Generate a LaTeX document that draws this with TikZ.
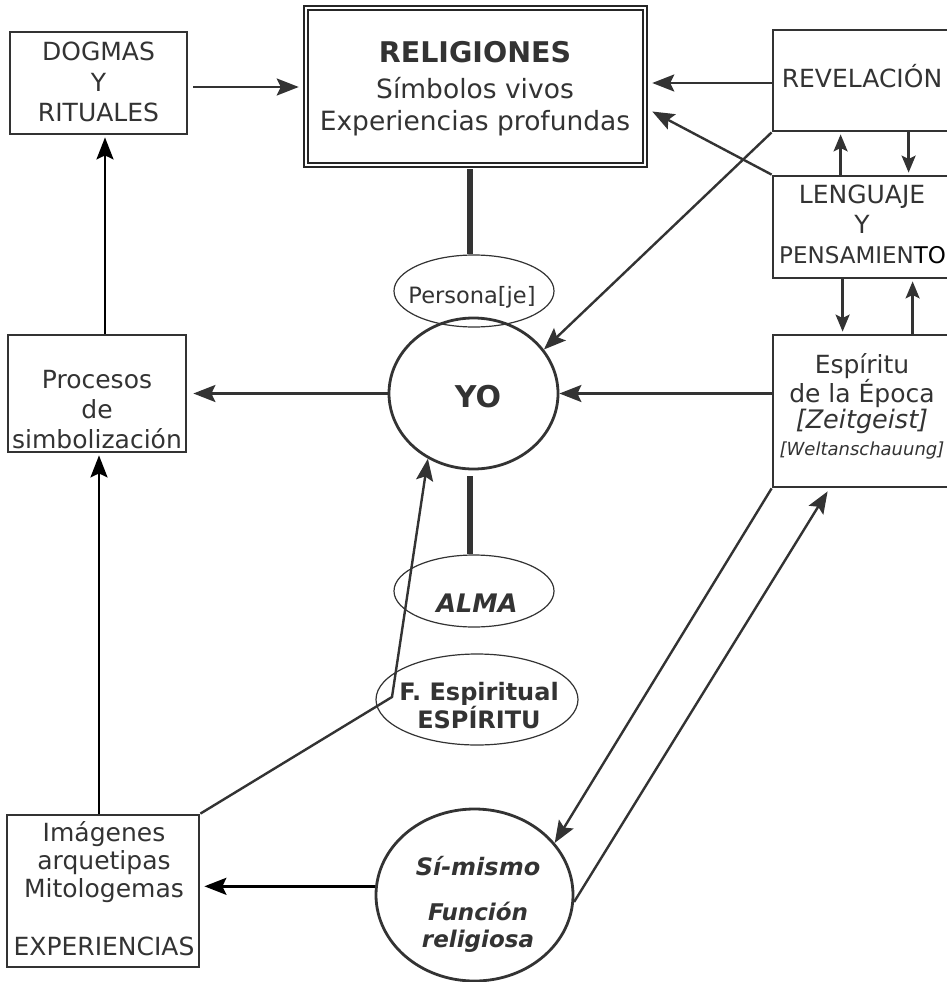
\documentclass[tikz,border=0pt]{standalone}
\usepackage{fontspec}
\setmainfont{DejaVu Sans}
\usetikzlibrary{arrows.meta,shapes.geometric,calc}
\definecolor{dg}{RGB}{51,51,51}
\newcommand\fsz[2]{\fontsize{#1}{#2}\selectfont}
\begin{document}
\begin{tikzpicture}[x=1pt,y=-1pt,
 boxst/.style={draw=dg,line width=2.8pt,rectangle,inner sep=0pt},
 ell/.style={draw=dg,line width=1.2pt,ellipse,inner sep=0pt},
 circ/.style={draw=dg,line width=2.8pt,ellipse,inner sep=0pt},
 txt/.style={text=dg,inner sep=0pt,anchor=base,font=\fsz{25}{30}},
 btxt/.style={txt,font=\fsz{24}{28}\bfseries},
 bitxt/.style={txt,font=\fsz{23}{27}\bfseries\itshape},
 myarrowtip/.style={-{Stealth[length=22pt,width=17pt,inset=4pt]}},
 arr/.style={draw=dg,line width=2.4pt,myarrowtip},
 arrk/.style={draw=black,line width=2.4pt,myarrowtip},
 arrs/.style={draw=dg,line width=2.4pt,-{Stealth[length=17pt,width=14pt,inset=3.5pt]}},
 thickbar/.style={draw=dg,line width=5.5pt}]
\useasboundingbox (0,0) rectangle (947,982);
\fill[white] (0,0) rectangle (947,982);

% boxes
\node[boxst,minimum width=177pt,minimum height=102pt] (dog) at (98.5,83) {};
\node[draw=black!85,double,line width=2.5pt,double distance=1.5pt,rectangle,inner sep=0pt,minimum width=339pt,minimum height=157pt] (relig) at (475.5,86.5) {};
\node[boxst,minimum width=187pt,minimum height=101pt] (rev) at (866.5,80.5) {};
\node[boxst,minimum width=187pt,minimum height=102pt] (len) at (866.5,227) {};
\node[boxst,minimum width=187pt,minimum height=152pt] (esp) at (866.5,411) {};
\node[boxst,minimum width=178pt,minimum height=117pt] (proc) at (97,393.5) {};
\node[boxst,minimum width=192pt,minimum height=152pt] (img) at (103,891) {};

% ellipses
\node[ell,minimum width=160pt,minimum height=72pt] (pers) at (474,291) {};
\node[circ,minimum width=169pt,minimum height=151pt] (yo) at (473.5,393.5) {};
\node[ell,minimum width=160pt,minimum height=72pt] (alma) at (474,591) {};
\node[ell,minimum width=202pt,minimum height=91pt] (fe) at (477,699.5) {};
\node[circ,minimum width=197pt,minimum height=172pt] (si) at (474.5,895) {};

% texts
\node[txt] (t1) at (98.5,61) {DOGMAS};
\node[txt] (t2) at (98.5,92) {Y};
\node[txt] (t3) at (98.5,121) {RITUALES};
\node[txt,font=\fsz{28.5}{33}\bfseries] (t4) at (475,63) {RELIGIONES};
\node[txt,font=\fsz{26.5}{33}] (t5) at (475,98) {Símbolos vivos};
\node[txt,font=\fsz{26.5}{33}] (t6) at (475,130) {Experiencias profundas};
\node[txt] (t7) at (862,88) {REVELACIÓN};
\node[txt] (t8) at (862,203) {LENGUAJE};
\node[txt] (t9) at (862,233) {Y};
\node[txt,anchor=base west,font=\fsz{23}{28}] (t10) at (779,263) {PENSAMIEN\textcolor{black}{TO}};
\node[txt] (t11) at (862,373) {Espíritu};
\node[txt] (t12) at (862,402) {de la Época};
\node[txt,font=\fsz{25.5}{30}\itshape] (t13) at (862,428) {[Zeitgeist]};
\node[txt,font=\fsz{18}{22}\itshape] (t14) at (862,455) {[Weltanschauung]};
\node[txt] (t15) at (97,388) {Procesos};
\node[txt] (t16) at (97,418) {de};
\node[txt] (t17) at (97,448) {simbolización};
\node[txt] (t18) at (104,841) {Imágenes};
\node[txt] (t19) at (104,869) {arquetipas};
\node[txt] (t20) at (104,897) {Mitologemas};
\node[txt] (t21) at (104,955) {EXPERIENCIAS};
\node[txt,font=\fsz{22.5}{26}] (t22) at (472,303) {Persona[je]};
\node[txt,font=\fsz{30}{34}\bfseries] (t23) at (478,407) {YO};
\node[txt,font=\fsz{25.5}{30}\bfseries\itshape] (t24) at (477,612) {ALMA};
\node[btxt] (t25) at (479,700) {F. Espiritual};
\node[btxt] (t26) at (479,728) {ESPÍRITU};
\node[bitxt,font=\fsz{24}{27}\bfseries\itshape] (t27) at (478,875) {Sí-mismo};
\node[bitxt] (t28) at (478,920) {Función};
\node[bitxt] (t29) at (478,947) {religiosa};

% thick bars
\draw[thickbar] ($(relig.south)+(-5.5,3)$) -- ($(pers.north)+(-4,0)$);
\draw[thickbar] ($(yo.south)+(-3.5,6)$) -- ($(alma.north)+(-4,0)$);

% connectors
\draw[arr] ($(dog.east)+(5,4)$) -- ($(relig.west)+(-6,0.5)$);
\draw[arr] ($(rev.west)+(0,2.5)$) -- ($(relig.east |- rev.west)+(6,2.5)$);
\draw[arr] (len.north west) -- ($(relig.east)+(6,25)$);
\draw[arr] (rev.south west) -- (yo.32);
\draw[arrs] ($(len.north west)+(69,0)$) -- ($(rev.south west)+(69,2)$);
\draw[arrs] ($(rev.south west)+(137,0)$) -- ($(len.north west)+(137,-2)$);
\draw[arrs] ($(len.south west)+(71,0)$) -- ($(esp.north west)+(71,-2)$);
\draw[arrs] ($(esp.north west)+(141,0)$) -- ($(len.south west)+(141,2)$);
\draw[arr] (yo.east -| esp.west) -- (yo.east);
\draw[arr,shorten >=6pt] (yo.west) -- (yo.west -| proc.east);
\draw[arrk,shorten >=2pt] ($(proc.north)+(8,0)$) -- ($(dog.south)+(6.5,0)$);
\draw[arrk,shorten >=2pt] ($(img.north)+(-4,0)$) -- ($(proc.south)+(2,0)$);
\coordinate (fep) at (392,697);
\draw[arr] (img.north east) -- (fep) -- (yo.235);
\draw[arr] (esp.south west) -- (si.33);
\draw[arr] (si.-4) -- ($(esp.south west)+(56,3)$);
\draw[arrk,shorten >=4pt] (si.175) -- (si.175 -| img.east);
\end{tikzpicture}
\end{document}
